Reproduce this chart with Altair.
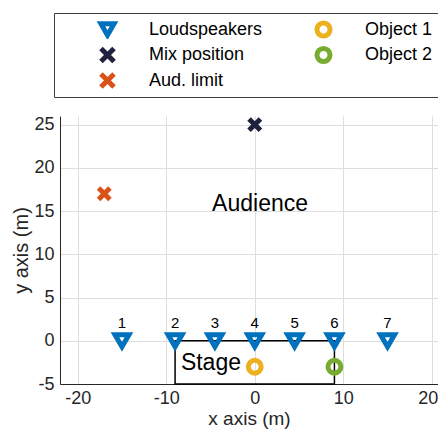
import altair as alt
import pandas as pd

FONT = "Liberation Sans"

# Loudspeakers
spk_x = [-15, -9, -4.5, 0, 4.5, 9, 15]
spk_y = [0, 0, 0, 0, 0, 0, 0]
spk_lbl = ["1", "2", "3", "4", "5", "6", "7"]

# Other positions
mix_xy = [0, 25]
aud_xy = [-17, 17]
obj1_xy = [0, -3]
obj2_xy = [9, -3]

# Stage rectangle
stage_x = [-9, 9]
stage_y = [-5, 0]

# Annotations
ann_text = ["Audience", "Stage"]
ann_x = [0.6, -4.95]
ann_y = [15.8, -2.6]

# Legend/series (column-major order for the 2-column legend)
series_names = ["Loudspeakers", "Mix position", "Aud. limit", "Object 1", "Object 2"]
series_colors = ["#0072BD", "#20203F", "#D95319", "#EDB120", "#77AC30"]
X_PATH = "M-1,-1L1,1M-1,1L1,-1"
series_shapes = ["triangle-down", X_PATH, X_PATH, "circle", "circle"]

x_ticks = [-20, -10, 0, 10, 20]
y_ticks = [-5, 0, 5, 10, 15, 20, 25]

spk_pts = pd.DataFrame({"x": spk_x, "y": spk_y, "series": ["Loudspeakers"] * len(spk_x), "label": spk_lbl})
x_pts = pd.DataFrame({"x": [mix_xy[0], aud_xy[0]], "y": [mix_xy[1], aud_xy[1]],
                      "series": ["Mix position", "Aud. limit"]})
o_pts = pd.DataFrame({"x": [obj1_xy[0], obj2_xy[0]], "y": [obj1_xy[1], obj2_xy[1]],
                      "series": ["Object 1", "Object 2"]})
stage = pd.DataFrame({"x1": [stage_x[0]], "x2": [stage_x[1]], "y1": [stage_y[0]], "y2": [stage_y[1]]})
ann = pd.DataFrame({"x": ann_x, "y": ann_y, "text": ann_text})

xscale = alt.Scale(domain=[-22, 20.7], nice=False, zero=False)
yscale = alt.Scale(domain=[-5, 26], nice=False, zero=False)
xaxis = alt.Axis(values=x_ticks, title="x axis (m)", labelPadding=5, titlePadding=2, titleFontSize=19,
                 labelFlush=8, labelFlushOffset=6, labelExpr="'' + datum.value")
yaxis = alt.Axis(values=y_ticks, title="y axis (m)", labelPadding=6, titlePadding=2,
                 labelFlush=False, labelExpr="'' + datum.value")

legend = alt.Legend(
    title=None,
    orient="none",
    legendX=-6,
    legendY=-103,
    columns=2,
    columnPadding=14,
    rowPadding=6.5,
    padding=7,
    clipHeight=19,
    symbolOffset=37,
    labelOffset=32,
    symbolSize=170,
    strokeColor="#404040",
    fillColor="white",
    labelFontSize=18,
    labelFont=FONT,
    labelColor="black",
    symbolStrokeWidth=5,
    labelLimit=300,
)

color_enc = alt.Color("series:N", scale=alt.Scale(domain=series_names, range=series_colors), legend=legend)
shape_enc = alt.Shape("series:N", scale=alt.Scale(domain=series_names, range=series_shapes))

stage_layer = alt.Chart(stage).mark_rect(filled=False, stroke="black", strokeWidth=1.5).encode(
    x=alt.X("x1:Q", scale=xscale, axis=xaxis),
    x2="x2:Q",
    y=alt.Y("y1:Q", scale=yscale, axis=yaxis),
    y2="y2:Q",
)


def pt_layer(df, size):
    return alt.Chart(df).mark_point(filled=False, strokeWidth=5, opacity=1, size=size).encode(
        x=alt.X("x:Q", scale=xscale, axis=xaxis),
        y=alt.Y("y:Q", scale=yscale, axis=yaxis),
        color=color_enc,
        shape=shape_enc,
    )


spk_layer = pt_layer(spk_pts, 196)
x_layer = pt_layer(x_pts, 130)
o_layer = pt_layer(o_pts, 165)

spk_text = alt.Chart(spk_pts).mark_text(fontSize=15, font=FONT, color="black", dy=-18, baseline="middle").encode(
    x=alt.X("x:Q", scale=xscale),
    y=alt.Y("y:Q", scale=yscale),
    text="label:N",
)

ann_layer = alt.Chart(ann).mark_text(fontSize=23, font=FONT, color="black", baseline="middle").encode(
    x=alt.X("x:Q", scale=xscale),
    y=alt.Y("y:Q", scale=yscale),
    text="text:N",
)

chart = alt.layer(stage_layer, spk_layer, x_layer, o_layer, spk_text, ann_layer).properties(
    width=378,
    height=268,
    padding={"left": 52, "top": 108, "right": 0, "bottom": 45},
    autosize=alt.AutoSizeParams(type="none"),
).configure_view(strokeWidth=0).configure_axis(
    labelFont=FONT,
    titleFont=FONT,
    labelFontSize=18,
    titleFontSize=20,
    titleFontWeight="normal",
    labelColor="#262626",
    titleColor="#262626",
    domainColor="#262626",
    domainWidth=1,
    gridColor="#dedede",
    gridWidth=1,
    ticks=False,
)

chart.save("out.html", embed_options={"renderer": "svg", "actions": False})
